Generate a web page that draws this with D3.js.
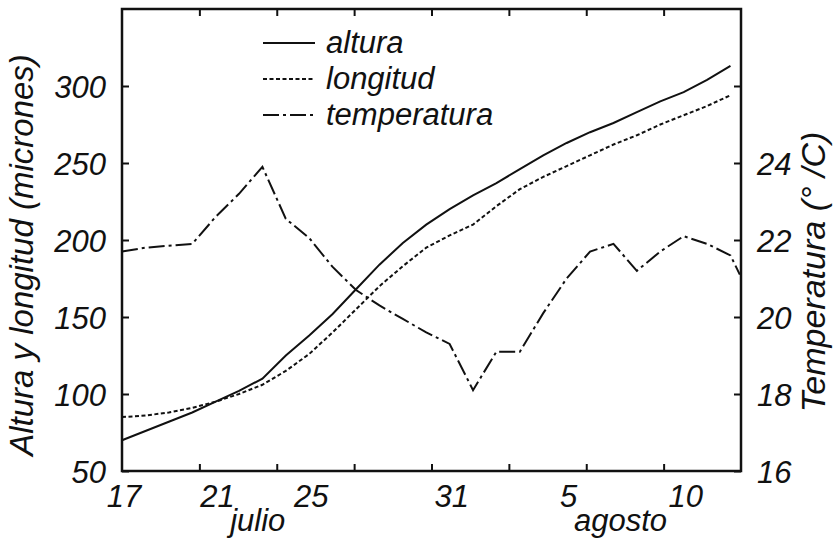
<!DOCTYPE html>
<html><head><meta charset="utf-8">
<script src="https://cdn.jsdelivr.net/npm/d3@7"></script>
<style>
body{margin:0;background:#fff}
text{font-family:"Liberation Sans",Arial,Helvetica,sans-serif;font-style:italic;fill:#111}
</style>
</head><body>
<svg id="c" width="836" height="542"></svg>
<script>
// ---- data (days since 17 July) ----
const days = d3.range(0, 27);
const altura = [70,76,82,88,95,102,110,125,138,152,168,184,198,210,220,229,237,246,255,263,270,276,283,290,296,304,313];
const longitud = [85,86,88,91,95,100,106,115,126,140,155,170,183,195,203,210,222,233,241,248,255,262,268,275,281,287,294];
const tempDays = [0,1,2,3,4,5,6,7,8,9,10,11,12,13,14,15,16,17,18,19,20,21,22,23,24,25,26,26.4];
const temperatura = [21.7,21.8,21.85,21.9,22.6,23.2,23.9,22.55,22.05,21.3,20.7,20.3,19.95,19.6,19.3,18.1,19.1,19.1,20.1,21.0,21.7,21.9,21.2,21.7,22.1,21.9,21.6,21.1];
const leftTicks = [50,100,150,200,250,300];
const rightTicks = [16,18,20,22,24,26];
const rightLabels = ["16","18","20","22","24",""];
const dateLabels = ["17","21","25","31","5","10"];
const dateDays = [0,4,8,14,19,24];
const monthLabels = ["julio","agosto"];
const monthDays = [5.8,21.3];
const seriesNames = ["altura","longitud","temperatura"];

const svg = d3.select("#c");
const L=122, R=741, T=9, B=471;
const x = d3.scaleLinear().domain([0,26.45]).range([L,R]);
const yL = d3.scaleLinear().domain([50,350]).range([B,T]);
const yR = d3.scaleLinear().domain([16,28]).range([B,T]);
const fs = 31;

const dashes = {altura:null, longitud:"4,2.5", temperatura:"16,4,3,4"};

// axes (ticks inward)
const minor = d3.range(1,8).map(k => 26.45*k/8);
function styleAxis(g){ g.select(".domain").remove(); g.selectAll("line").attr("stroke","#111").attr("stroke-width",2); g.selectAll("text").attr("font-size",fs).attr("dy","0.36em").style("font-family",'"Liberation Sans",Arial,sans-serif').style("font-style","italic"); }
svg.append("g").attr("transform",`translate(${L},0)`)
  .call(d3.axisLeft(yL).tickValues(leftTicks).tickSize(-7).tickPadding(16).tickFormat(d3.format("d"))).call(styleAxis);
svg.append("g").attr("transform",`translate(${R},0)`)
  .call(d3.axisRight(yR).tickValues(rightTicks).tickSize(-7).tickPadding(16).tickFormat((d,i)=>rightLabels[i])).call(styleAxis);
svg.append("g").attr("transform",`translate(0,${B})`)
  .call(d3.axisBottom(x).tickValues(minor).tickSize(-7).tickFormat("")).call(styleAxis);
svg.append("g").attr("transform",`translate(0,${T})`)
  .call(d3.axisTop(x).tickValues(minor).tickSize(-7).tickFormat("")).call(styleAxis);

// frame
svg.append("rect").attr("x",L).attr("y",T).attr("width",R-L).attr("height",B-T)
  .attr("fill","none").attr("stroke","#111").attr("stroke-width",2.5);

// date labels
svg.append("g").selectAll("text").data(dateLabels).join("text")
  .attr("x",(d,i)=>x(dateDays[i])+2).attr("y",B+36)
  .attr("text-anchor","middle").attr("font-size",fs).text(d=>d);
svg.append("g").selectAll("text").data(monthLabels).join("text")
  .attr("x",(d,i)=>x(monthDays[i])).attr("y",B+60)
  .attr("text-anchor","middle").attr("font-size",fs).text(d=>d);

// lines
const lineL = d3.line().x(d=>x(d[0])).y(d=>yL(d[1]));
const lineR = d3.line().x(d=>x(d[0])).y(d=>yR(d[1]));
const g = svg.append("g").attr("fill","none").attr("stroke","#111").attr("stroke-width",2);
g.append("path").attr("d",lineR(tempDays.map((d,i)=>[d,temperatura[i]]))).attr("stroke-dasharray",dashes.temperatura);
g.append("path").attr("d",lineL(days.map((d,i)=>[d,longitud[i]]))).attr("stroke-dasharray",dashes.longitud);
g.append("path").attr("d",lineL(days.map((d,i)=>[d,altura[i]])));

// legend
const leg = svg.append("g").attr("transform","translate(263,43)");
seriesNames.forEach((n,i)=>{
  leg.append("line").attr("x1",0).attr("x2",52).attr("y1",i*36).attr("y2",i*36)
    .attr("stroke","#111").attr("stroke-width",2).attr("stroke-dasharray",dashes[n]);
  leg.append("text").attr("x",63).attr("y",i*36+10).attr("font-size",fs).text(n);
});

// axis titles
svg.append("text").attr("transform","translate(33,255) rotate(-90)")
  .attr("text-anchor","middle").attr("font-size",33).text("Altura y longitud (micrones)");
svg.append("text").attr("transform","translate(825,272) rotate(-90)")
  .attr("text-anchor","middle").attr("font-size",34).text("Temperatura (° /C)");
</script>
</body></html>
